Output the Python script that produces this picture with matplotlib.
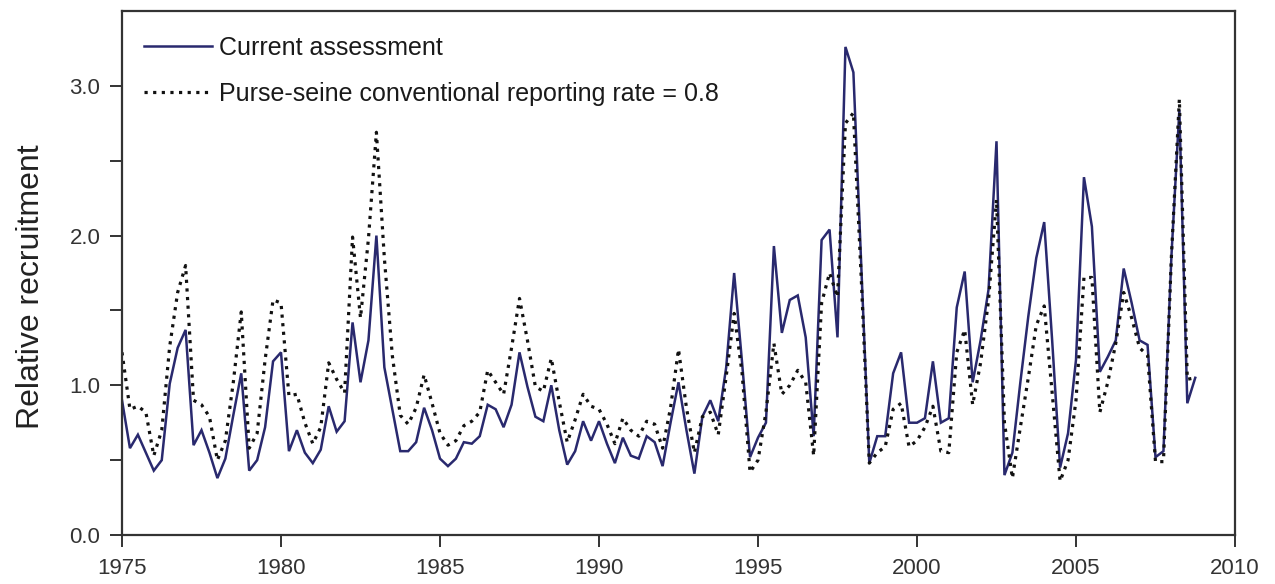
import numpy as np
import matplotlib
matplotlib.use("Agg")
import matplotlib.pyplot as plt
from matplotlib.ticker import FixedLocator, FormatStrFormatter

plt.rcParams['font.family'] = ['Liberation Sans', 'DejaVu Sans']

# ---- data (quarterly, 1975 Q1 .. 2008 Q4) ----
start_year = 1975
end_year = 2009
current_assessment = [
    0.90, 0.58, 0.67, 0.55,   # 1975
    0.43, 0.50, 1.01, 1.25,   # 1976
    1.37, 0.60, 0.70, 0.55,   # 1977
    0.38, 0.51, 0.80, 1.08,   # 1978
    0.43, 0.50, 0.72, 1.16,   # 1979
    1.22, 0.56, 0.70, 0.55,   # 1980
    0.48, 0.57, 0.86, 0.69,   # 1981
    0.76, 1.42, 1.02, 1.30,   # 1982
    2.00, 1.12, 0.84, 0.56,   # 1983
    0.56, 0.62, 0.85, 0.70,   # 1984
    0.51, 0.46, 0.51, 0.62,   # 1985
    0.61, 0.66, 0.87, 0.84,   # 1986
    0.72, 0.87, 1.22, 0.99,   # 1987
    0.79, 0.76, 1.00, 0.70,   # 1988
    0.47, 0.56, 0.76, 0.63,   # 1989
    0.76, 0.61, 0.48, 0.65,   # 1990
    0.53, 0.51, 0.66, 0.62,   # 1991
    0.46, 0.75, 1.02, 0.70,   # 1992
    0.41, 0.79, 0.90, 0.76,   # 1993
    1.12, 1.75, 1.15, 0.52,   # 1994
    0.65, 0.75, 1.93, 1.35,   # 1995
    1.57, 1.60, 1.32, 0.66,   # 1996
    1.97, 2.04, 1.32, 3.26,   # 1997
    3.09, 1.78, 0.48, 0.66,   # 1998
    0.66, 1.08, 1.22, 0.75,   # 1999
    0.75, 0.78, 1.16, 0.75,   # 2000
    0.78, 1.52, 1.76, 1.02,   # 2001
    1.30, 1.64, 2.63, 0.40,   # 2002
    0.55, 1.02, 1.46, 1.85,   # 2003
    2.09, 1.30, 0.45, 0.68,   # 2004
    1.17, 2.39, 2.06, 1.09,   # 2005
    1.19, 1.30, 1.78, 1.55,   # 2006
    1.30, 1.27, 0.52, 0.56,   # 2007
    1.86, 2.84, 0.88, 1.05,   # 2008
]
purse_seine_rr08 = [
    1.22, 0.84, 0.86, 0.82,   # 1975
    0.53, 0.70, 1.26, 1.62,   # 1976
    1.80, 0.90, 0.87, 0.79,   # 1977
    0.50, 0.63, 1.02, 1.49,   # 1978
    0.58, 0.68, 1.17, 1.57,   # 1979
    1.55, 0.93, 0.94, 0.75,   # 1980
    0.61, 0.72, 1.15, 1.04,   # 1981
    0.95, 1.99, 1.45, 1.98,   # 1982
    2.69, 1.85, 1.20, 0.80,   # 1983
    0.74, 0.85, 1.07, 0.88,   # 1984
    0.68, 0.60, 0.63, 0.73,   # 1985
    0.76, 0.82, 1.10, 1.02,   # 1986
    0.94, 1.25, 1.58, 1.30,   # 1987
    0.99, 0.96, 1.18, 0.89,   # 1988
    0.62, 0.77, 0.94, 0.86,   # 1989
    0.84, 0.74, 0.61, 0.78,   # 1990
    0.70, 0.66, 0.76, 0.74,   # 1991
    0.58, 0.85, 1.24, 0.85,   # 1992
    0.55, 0.79, 0.82, 0.67,   # 1993
    1.06, 1.48, 1.08, 0.42,   # 1994
    0.50, 0.82, 1.28, 0.94,   # 1995
    1.00, 1.10, 1.02, 0.53,   # 1996
    1.55, 1.75, 1.59, 2.75,   # 1997
    2.82, 1.70, 0.48, 0.55,   # 1998
    0.59, 0.84, 0.88, 0.59,   # 1999
    0.63, 0.72, 0.86, 0.56,   # 2000
    0.55, 1.22, 1.37, 0.87,   # 2001
    1.15, 1.57, 2.24, 0.75,   # 2002
    0.38, 0.72, 1.05, 1.40,   # 2003
    1.53, 0.95, 0.36, 0.50,   # 2004
    0.90, 1.72, 1.72, 0.82,   # 2005
    1.02, 1.28, 1.62, 1.45,   # 2006
    1.25, 1.20, 0.49, 0.49,   # 2007
    1.86, 2.91, 1.04, 1.05,   # 2008
]
label_current = "Current assessment"
label_ps = "Purse-seine conventional reporting rate = 0.8"
x_ticks = [1975, 1980, 1985, 1990, 1995, 2000, 2005, 2010]
y_major = [0.0, 1.0, 2.0, 3.0]
y_minor = [0.5, 1.5, 2.5]
y_label = "Relative recruitment"

# ---- plot ----
quarters = np.arange(start_year, end_year, 0.25)

fig = plt.figure(figsize=(12.75, 5.84), dpi=100)
ax = fig.add_axes([122/1275, 1 - 535/584, (1235-122)/1275, (535-11)/584])

navy = '#29296e'
ax.plot(quarters, current_assessment, color=navy, lw=1.8, label=label_current,
        solid_joinstyle='miter')
ax.plot(quarters, purse_seine_rr08, color='#111111', lw=2.3, linestyle=(0, (1, 1.7)),
        dash_capstyle='butt', label=label_ps)

ax.set_xlim(1975, 2010)
ax.set_ylim(0, 3.5)
ax.xaxis.set_major_locator(FixedLocator(x_ticks))
ax.yaxis.set_major_locator(FixedLocator(y_major))
ax.yaxis.set_minor_locator(FixedLocator(y_minor))
ax.yaxis.set_major_formatter(FormatStrFormatter('%.1f'))

tc = '#333333'
for s in ax.spines.values():
    s.set_color(tc)
    s.set_linewidth(1.6)
ax.tick_params(axis='both', which='both', direction='out', length=8.5, width=1.4,
               color=tc, labelcolor=tc, labelsize=16, pad=7)
ax.tick_params(axis='x', pad=8)

ax.set_ylabel(y_label, fontsize=23, color='#222222')
ax.yaxis.set_label_coords(-0.068, 0.473)

leg = ax.legend(loc='upper left', bbox_to_anchor=(22/1113, 1 - 25/524), frameon=False,
                fontsize=18, handlelength=2.7, handletextpad=0.3, labelspacing=0.87,
                borderpad=0, borderaxespad=0)
for t in leg.get_texts():
    t.set_color('#1a1a1a')

fig.savefig('out.png', dpi=100, facecolor='white')
